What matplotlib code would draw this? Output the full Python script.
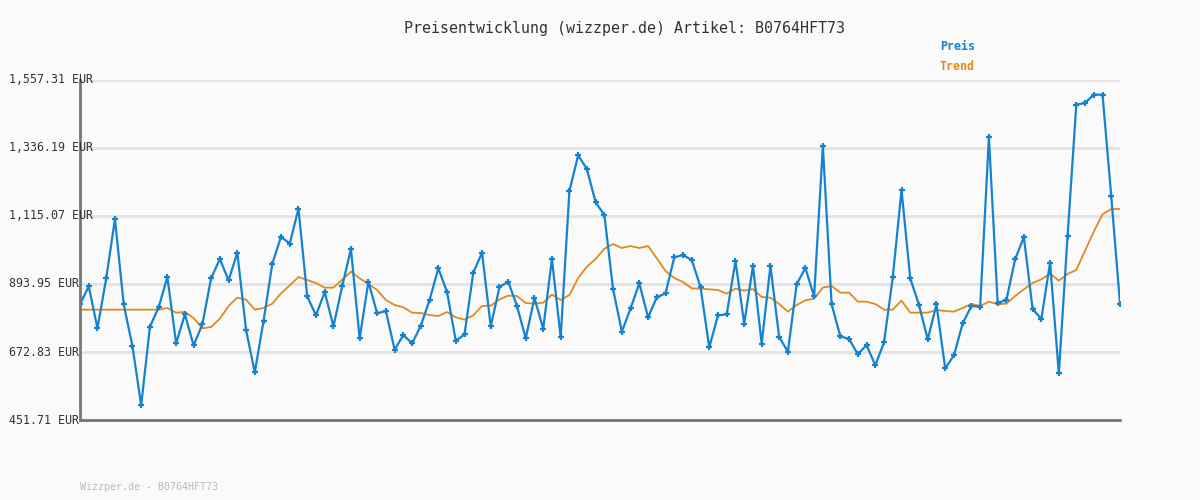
import matplotlib
matplotlib.use("Agg")
import matplotlib.pyplot as plt
import matplotlib.transforms as mtrans
import numpy as np

# price readings (EUR), 120 samples
preis = [827.8, 886.4, 749.8, 912.4, 1105.3, 827.8, 692.3, 499.4, 755.2, 818.1,
         916.7, 701.0, 795.3, 694.5, 762.8, 912.4, 975.2, 905.9, 995.8, 744.4,
         606.7, 773.6, 959.0, 1047.9, 1025.1, 1138.9, 853.8, 792.0, 867.9, 756.3,
         886.4, 1007.7, 717.3, 901.5, 798.6, 806.1, 680.4, 728.1, 701.0, 758.4,
         841.9, 944.9, 867.9, 708.6, 730.3, 930.8, 995.8, 756.3, 884.2, 901.5,
         822.4, 717.3, 848.4, 748.7, 975.2, 720.5, 1196.4, 1312.3, 1267.9, 1159.5,
         1118.3, 876.6, 738.9, 814.8, 896.1, 785.5, 850.6, 863.6, 980.6, 988.2,
         972.0, 884.2, 688.0, 792.0, 795.3, 968.7, 765.0, 952.5, 699.9, 952.5,
         721.6, 673.9, 892.9, 946.0, 853.8, 1342.7, 827.8, 723.8, 715.1, 665.2,
         695.6, 629.5, 704.3, 915.6, 1199.6, 912.4, 825.7, 714.0, 827.8, 619.7,
         662.0, 766.0, 822.4, 820.2, 1371.9, 832.2, 841.9, 974.1, 1046.8, 812.6,
         780.1, 963.3, 603.5, 1048.9, 1477.1, 1482.5, 1509.6, 1509.6, 1179.0, 830.0]

trend = [810.5, 810.5, 810.5, 810.5, 810.5, 810.5, 810.5, 810.5, 810.5, 810.5,
         815.9, 800.7, 802.9, 783.4, 749.8, 754.1, 781.2, 822.4, 849.5, 843.0,
         810.5, 815.9, 830.0, 863.6, 889.6, 916.7, 906.9, 897.2, 882.0, 882.0,
         908.0, 934.0, 912.4, 893.9, 874.4, 841.9, 825.7, 818.1, 800.7, 799.6,
         793.1, 789.8, 802.9, 785.5, 777.9, 792.0, 822.4, 823.5, 844.0, 856.0,
         854.9, 832.2, 830.0, 833.3, 859.3, 841.9, 858.2, 913.4, 950.3, 975.2,
         1008.8, 1024.0, 1011.0, 1017.5, 1011.0, 1017.5, 977.4, 936.2, 913.4, 900.4,
         879.8, 878.8, 876.6, 874.4, 862.6, 878.8, 872.3, 877.7, 851.7, 849.5,
         828.9, 804.0, 825.7, 840.8, 846.3, 882.0, 887.4, 865.7, 865.7, 836.5,
         836.5, 828.9, 810.5, 810.5, 839.8, 800.7, 800.7, 800.7, 809.4, 806.1,
         804.0, 815.9, 828.9, 822.4, 836.5, 827.8, 830.0, 854.9, 876.6, 897.2,
         909.1, 927.5, 904.8, 926.4, 939.5, 1002.3, 1064.1, 1120.5, 1137.8, 1137.8]

ticks = [451.71, 672.83, 893.95, 1115.07, 1336.19, 1557.31]
tick_labels = ["451.71 EUR", "672.83 EUR", "893.95 EUR", "1,115.07 EUR",
               "1,336.19 EUR", "1,557.31 EUR"]

bg = "#fafafa"
blue = "#1582d0"
orange = "#e08a1e"
mono = "DejaVu Sans Mono"

fig = plt.figure(figsize=(12, 5), dpi=100, facecolor=bg)
ax = fig.add_axes([80 / 1200, 80 / 500, 1040 / 1200, 340 / 500], facecolor=bg)

x = np.arange(len(preis))
ax.plot(x, trend, color=orange, lw=1.3, zorder=3)
ax.plot(x, preis, color=blue, lw=1.6, marker="+", ms=4, mew=1.6, zorder=4)

ax.set_xlim(0, len(preis) - 1)
ax.set_ylim(ticks[0], ticks[-1])
ax.set_yticks(ticks)
ax.set_yticklabels([])
ax.set_xticks([])
ax.tick_params(axis="y", length=0)
ax.grid(axis="y", color="#e3e3e3", lw=2)
ax.set_axisbelow(True)

for s in ["top", "right"]:
    ax.spines[s].set_visible(False)
for s in ["left", "bottom"]:
    ax.spines[s].set_color("#777777")
    ax.spines[s].set_linewidth(2)
    ax.spines[s].set_zorder(5)

trans = mtrans.blended_transform_factory(fig.transFigure, ax.transData)
for t, lab in zip(ticks, tick_labels):
    ax.text(9 / 1200, t, lab, transform=trans, ha="left", va="center",
            family=mono, fontsize=8.4, color="#333333", zorder=6, clip_on=False)

fig.text(624 / 1200, 1 - 28 / 500, "Preisentwicklung (wizzper.de) Artikel: B0764HFT73",
         ha="center", va="center", family=mono, fontsize=10.8, color="#333333")
fig.text(940 / 1200, 1 - 47 / 500, "Preis", ha="left", va="center", family=mono,
         fontsize=8.4, fontweight="bold", color=blue)
fig.text(940 / 1200, 1 - 67 / 500, "Trend", ha="left", va="center", family=mono,
         fontsize=8.4, fontweight="bold", color=orange)
fig.text(80 / 1200, 1 - 487 / 500, "Wizzper.de - B0764HFT73", ha="left", va="center",
         family=mono, fontsize=7.2, color="#bbbbbb")

fig.savefig("out.png", dpi=100, facecolor=bg)
